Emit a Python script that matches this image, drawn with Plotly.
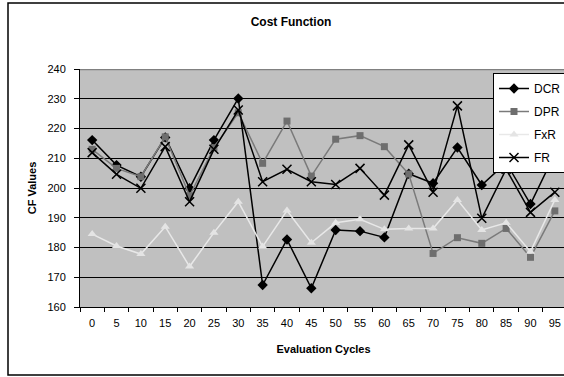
import plotly.graph_objects as go

cycles = ["0", "5", "10", "15", "20", "25", "30", "35", "40", "45",
          "50", "55", "60", "65", "70", "75", "80", "85", "90", "95"]
dcr = [216.1, 207.7, 203.8, 217.0, 199.9, 216.1, 230.1, 167.4, 182.7, 166.3,
       185.9, 185.5, 183.4, 204.8, 201.6, 213.6, 201.0, 208.5, 194.6, 211.5]
dpr = [213.0, 206.6, 203.8, 217.2, 197.4, 213.5, 225.3, 208.3, 222.5, 204.0,
       216.4, 217.6, 213.9, 204.7, 178.0, 183.3, 181.4, 186.4, 176.7, 192.3]
fxr = [184.5, 180.5, 177.8, 187.0, 173.6, 185.0, 195.4, 180.3, 192.4, 181.6,
       188.3, 189.5, 186.1, 186.4, 186.4, 196.0, 185.9, 188.3, 178.6, 196.0]
fr = [211.9, 204.6, 199.9, 213.9, 195.4, 213.0, 226.2, 202.1, 206.3, 202.1,
      201.2, 206.6, 197.6, 214.5, 198.6, 227.6, 189.8, 206.3, 191.8, 198.6]
y_ticks = [160, 170, 180, 190, 200, 210, 220, 230, 240]

W, H = 600, 377
L, R_EDGE, T, B = 80, 567, 69, 307

fig = go.Figure()
fig.add_trace(go.Scatter(x=cycles, y=dcr, name="DCR", mode="lines+markers",
                         line=dict(color="black", width=1.5),
                         marker=dict(symbol="diamond", size=8, color="black"),
                         legendgroup="a"))
fig.add_trace(go.Scatter(x=cycles, y=dpr, name="DPR", mode="lines+markers",
                         line=dict(color="#7a7a7a", width=1.5),
                         marker=dict(symbol="square", size=7, color="#6e6e6e"),
                         legendgroup="b"))
fig.add_trace(go.Scatter(x=cycles, y=fxr, name="FxR", mode="lines+markers",
                         line=dict(color="#e8e8e8", width=1.5),
                         marker=dict(symbol="triangle-up", size=8, color="#e4e4e4"),
                         legendgroup="c"))
fig.add_trace(go.Scatter(x=cycles, y=fr, name="FR", mode="lines+markers",
                         line=dict(color="black", width=1.5),
                         marker=dict(symbol="x-thin", size=9, color="black",
                                     line=dict(width=1.5, color="black")),
                         legendgroup="d"))

pw = R_EDGE - L
ph = B - T
fig.add_shape(type="line", xref="paper", yref="y", x0=0, x1=1, y0=240, y1=240,
              line=dict(color="#808080", width=2.5), layer="above")
fig.add_shape(type="rect", xref="paper", yref="paper",
              x0=(8 - L) / pw, x1=(575 - L) / pw,
              y0=(B - 375) / ph, y1=(B - 3) / ph,
              line=dict(color="black", width=1.5), fillcolor="rgba(0,0,0,0)",
              layer="below")

fig.update_layout(
    width=W, height=H,
    margin=dict(l=L, r=W - R_EDGE, t=T, b=H - B),
    paper_bgcolor="white", plot_bgcolor="#c0c0c0",
    font=dict(family="Liberation Sans, Arial, sans-serif", size=11, color="black"),
    title=dict(text="<b>Cost Function</b>", x=291 / W, xanchor="center",
               y=1 - 22 / H, yanchor="middle", font=dict(size=12)),
    showlegend=True,
    legend=dict(x=(493 - L) / pw, y=(B - 73) / ph, xanchor="left", yanchor="top",
                bgcolor="white", bordercolor="black", borderwidth=1,
                font=dict(size=12), traceorder="grouped", tracegroupgap=4),
    xaxis=dict(type="category", categoryorder="array", categoryarray=cycles,
               range=[-0.5, 19.5], showgrid=False, showline=True,
               linecolor="black", linewidth=1, ticks="outside", tickson="boundaries",
               ticklen=4, tickcolor="black", ticklabelstandoff=6,
               title=dict(text="<b>Evaluation Cycles</b>", standoff=17,
                          font=dict(size=11)),
               zeroline=False),
    yaxis=dict(range=[160, 240], tickvals=y_ticks, showgrid=True,
               gridcolor="black", gridwidth=1, showline=True, linecolor="black",
               linewidth=1, ticks="outside", ticklen=5, tickcolor="black",
               ticklabelstandoff=6, zeroline=False,
               title=dict(text="<b>CF Values</b>", standoff=8, font=dict(size=11))),
)

fig.write_html("out.html", post_script="document.body.style.overflow='hidden';document.body.style.margin='0';")
